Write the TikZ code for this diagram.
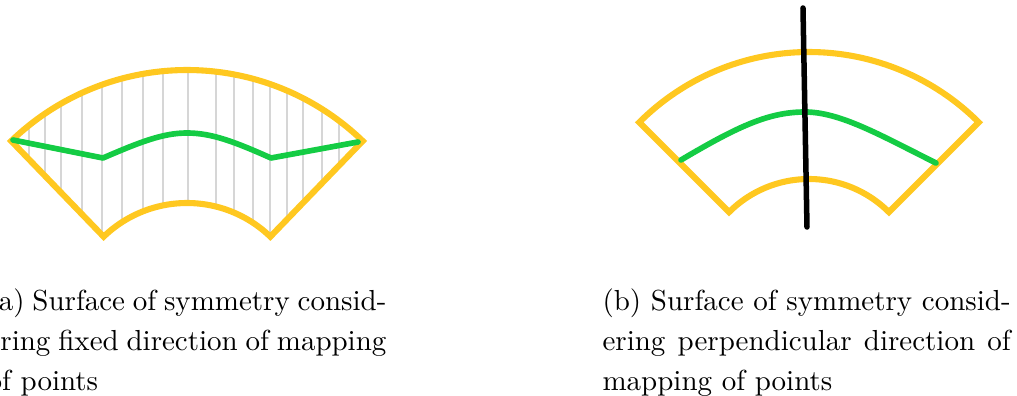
\documentclass[tikz,border=0pt]{standalone}
\definecolor{ygold}{RGB}{255,200,32}
\definecolor{sgreen}{RGB}{20,204,68}
\definecolor{lgray}{RGB}{214,214,214}
\begin{document}
\begin{tikzpicture}[x=0.345pt,y=-0.345pt,
  rim/.style={draw=ygold,line width=2.1pt,line join=miter},
  symline/.style={draw=sgreen,line width=1.95pt,line cap=round,line join=round},
  mapline/.style={draw=lgray,line width=0.35pt},
  axisline/.style={draw=black,line width=1.9pt,line cap=round},
  capt/.style={anchor=north west,inner sep=0pt,align=justify,font=\fontsize{10}{13.8}\selectfont}]
\useasboundingbox (0,0) rectangle (1017,396);
% ---------- (a) ----------
\begin{scope}
  \clip plot[domain=-134:-46,samples=80] ({187+253*cos(\x)},{323+253*sin(\x)})
     -- plot[domain=-46:-134,samples=60] ({187+120*cos(\x)},{323+120*sin(\x)}) -- cycle;
  \foreach \gx in {29,45,61,82,102,122,143,163,188,216,234,253,270,287,303,322,339}
    \draw[mapline] (\gx,60) -- (\gx,245);
\end{scope}
\draw[rim] plot[domain=-134:-46,samples=80] ({187+253*cos(\x)},{323+253*sin(\x)})
     -- plot[domain=-46:-134,samples=60] ({187+120*cos(\x)},{323+120*sin(\x)}) -- cycle;
\draw[symline] (13,140) -- (103,158) .. controls (140,142) and (163,133) .. (187,133)
     .. controls (212,133) and (235,142) .. (271,158) -- (358,142);
% ---------- (b) ----------
\draw[rim] plot[domain=-135:-45,samples=80] ({809+240*cos(\x)},{292+240*sin(\x)})
     -- plot[domain=-45:-135,samples=60] ({809+113*cos(\x)},{292+113*sin(\x)}) -- cycle;
\draw[symline] (681,160) .. controls (740,125) and (770,112) .. (805,112)
     .. controls (840,112) and (880,135) .. (936,163);
\coordinate (axtop) at (803,8);
\coordinate (axbot) at (807,227);
\draw[axisline] (axtop) -- (axbot);
% ---------- captions ----------
\node[capt,text width=137.6pt] (capa) at (-13,288)
  {(a) Surface of symmetry consid-\linebreak ering fixed direction of mapping\linebreak of points};
\node[capt,text width=140.8pt] (capb) at (602,288)
  {(b) Surface of symmetry consid-\linebreak ering perpendicular direction of\linebreak mapping of points};
\end{tikzpicture}
\end{document}
